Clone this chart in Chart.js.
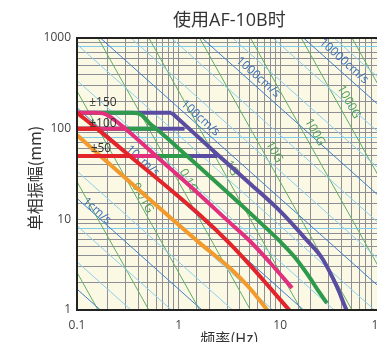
<!DOCTYPE html>
<html>
<head>
<meta charset="utf-8">
<script src="https://cdn.jsdelivr.net/npm/chart.js@4.4.0/dist/chart.umd.min.js"></script>
<style>
html, body { margin: 0; padding: 0; background: #fff; overflow: hidden; }
#wrap { width: 400px; height: 342px; }
</style>
</head>
<body>
<div id="wrap"><canvas id="chart" width="400" height="342"></canvas></div>
<script>
// Axis ranges
const freqRange = [0.1, 100];   // Hz
const ampRange = [1, 1000];     // mm

// Stroke levels (single amplitude, mm)
const strokeLevels = [150, 100, 50];
const strokeLabels = ['±150', '±100', '±50'];

// Limit curves: frequency (Hz) / amplitude (mm)
const purpleFreq = [0.854, 2.41, 5, 10, 18, 26, 32.4, 38, 42, 45];
const purpleAmp  = [150, 52, 25, 12.3, 6.0, 3.7, 2.35, 1.6, 1.2, 1.0];
const greenFreq  = [0.354, 0.41, 0.46, 0.52, 0.608, 1.2, 3, 6, 10, 14, 19.2, 24, 28.9];
const greenAmp   = [150, 146, 133, 114, 99, 50.5, 20, 9.8, 5.7, 3.8, 2.35, 1.6, 1.19];
const pinkFreq   = [0.157, 0.19, 0.23, 0.3, 0.6, 1.6, 3, 5, 8, 13.1];
const pinkAmp    = [150, 145, 127, 100, 50, 18.8, 9.8, 5.8, 3.3, 1.75];
const redFreq    = [0.1, 0.157, 0.331, 1.6, 3.2, 5, 7.5, 10, 12.3];
const redAmp     = [150, 100, 50, 11.3, 5.4, 3.16, 1.89, 1.3, 1.0];
const orangeFreq = [0.1, 0.4, 1.61, 3.2, 5, 7.47];
const orangeAmp  = [85, 21.5, 5.5, 2.9, 1.75, 1.0];

// Where each stroke line (150 / 100 / 50) meets its curve, Hz
const purpleEnds = [0.854, 1.145, 2.41];
const greenEnds  = [0.354, 0.608, 1.2];
const pinkEnds   = [0.157, 0.3, 0.6];
const redEnds    = [null, 0.157, 0.331];
const orangeEnds = [null, null, 0.17];

// Velocity guide lines (cm/s): amplitude at 0.1 Hz and at 100 Hz
const velMajorAt01  = [1.7, 17, 170, 1700, 17000, 170000];
const velMajorAt100 = [0.0017, 0.017, 0.17, 1.7, 17, 170];
const velMinorAt01  = [3.4, 8.5, 34, 85, 340, 850, 3400, 8500, 34000, 85000, 340000, 850000];
const velMinorAt100 = [0.0034, 0.0085, 0.034, 0.085, 0.34, 0.85, 3.4, 8.5, 34, 85, 340, 850];

// Acceleration guide lines (0.0001G ... 10000G): amplitude at 0.1 Hz and at 100 Hz
const accAt01  = [2.6, 26, 260, 2600, 26000, 260000, 2600000, 26000000, 260000000];
const accAt100 = [0.0000026, 0.000026, 0.00026, 0.0026, 0.026, 0.26, 2.6, 26, 260];

// Guide labels: text, freq, amp
const velLabels = [
  ['1cm/s', 0.157, 12.4], ['10cm/s', 0.443, 44], ['100cm/s', 1.64, 131],
  ['1000cm/s', 6.08, 371], ['10000cm/s', 42.4, 557]
];
const accLabels = [
  ['0.01G', 0.443, 17.2], ['0.1G', 1.25, 26.5], ['1G', 3.31, 36.8],
  ['10G', 8.73, 55.3], ['100G', 22, 91.8], ['1000G', 47.4, 197]
];
const strokeLabelPos = [[0.18, 192], [0.18, 115], [0.172, 61]];

const FONT = '"Open Sans", "Noto Sans CJK SC", sans-serif';
const CJK = '"Noto Sans CJK SC", "Open Sans", sans-serif';

function pts(freqs, amps) {
    return freqs.map((f, i) => ({ x: f, y: amps[i] }));
}

function guide(a01, a100, color) {
    return {
        data: [{ x: 0.1, y: a01 }, { x: 100, y: a100 }],
        borderColor: color, borderWidth: 1, showLine: true,
        pointRadius: 0, order: 50, isGuide: true
    };
}

const datasets = [];
velMinorAt01.forEach((a, i) => datasets.push(guide(a, velMinorAt100[i], '#8dd0ee')));
velMajorAt01.forEach((a, i) => datasets.push(guide(a, velMajorAt100[i], '#3f7fcb')));
accAt01.forEach((a, i) => datasets.push(guide(a, accAt100[i], '#5fae62')));

const curves = [
    { color: '#5a4ca0', freq: purpleFreq, amp: purpleAmp, ends: purpleEnds, order: 5 },
    { color: '#2e9a4b', freq: greenFreq, amp: greenAmp, ends: greenEnds, order: 4 },
    { color: '#e2307f', freq: pinkFreq, amp: pinkAmp, ends: pinkEnds, order: 3 },
    { color: '#f39a2c', freq: orangeFreq, amp: orangeAmp, ends: orangeEnds, order: 2 },
    { color: '#e3242b', freq: redFreq, amp: redAmp, ends: redEnds, order: 1 }
];

curves.forEach(c => {
    datasets.push({
        data: pts(c.freq, c.amp), borderColor: c.color, borderWidth: 4,
        showLine: true, pointRadius: 0, cubicInterpolationMode: 'monotone', order: c.order
    });
    strokeLevels.forEach((lv, i) => {
        if (!c.ends[i]) return;
        datasets.push({
            data: [{ x: 0.1, y: lv }, { x: c.ends[i], y: lv }], borderColor: c.color,
            borderWidth: 4, showLine: true, pointRadius: 0, order: c.order
        });
    });
});

const isDecade = v => { const l = Math.log10(v); return Math.abs(l - Math.round(l)) < 1e-6; };
const isEight = v => { const m = v / Math.pow(10, Math.floor(Math.log10(v) + 1e-9)); return Math.abs(m - 8) < 1e-6; };

function drawGuideLabels(chart) {
    const { ctx, scales: { x, y } } = chart;
    const dx = x.getPixelForValue(10) - x.getPixelForValue(1);
    const dy = y.getPixelForValue(1) - y.getPixelForValue(10);
    ctx.save();
    ctx.font = '12px ' + FONT;
    ctx.textAlign = 'center';
    ctx.textBaseline = 'middle';
    const put = (list, k, color) => {
        const ang = Math.atan2(k * dy, dx);
        list.forEach(([t, f, a]) => {
            ctx.save();
            ctx.translate(x.getPixelForValue(f), y.getPixelForValue(a));
            ctx.rotate(ang);
            ctx.fillStyle = color;
            ctx.fillText(t, 0, 0);
            ctx.restore();
        });
    };
    put(velLabels, 1, '#3a6fb6');
    put(accLabels, 2, '#4f9f52');
    ctx.restore();
}

let labelsDone = false;
const decor = {
    id: 'decor',
    beforeDraw(chart) {
        const { ctx, chartArea: a } = chart;
        ctx.save();
        ctx.fillStyle = '#fbf8e4';
        ctx.fillRect(a.left, a.top, a.right - a.left, a.bottom - a.top);
        ctx.restore();
        labelsDone = false;
    },
    beforeDatasetDraw(chart, args) {
        const ds = chart.data.datasets[args.index];
        if (!ds.isGuide && !labelsDone) {
            drawGuideLabels(chart);
            labelsDone = true;
        }
    },
    afterDraw(chart) {
        const { ctx, chartArea: a, scales: { x, y } } = chart;
        ctx.save();
        // frame
        ctx.strokeStyle = '#222';
        ctx.lineWidth = 2;
        ctx.strokeRect(a.left, a.top, a.right - a.left, a.bottom - a.top);
        // stroke labels
        ctx.fillStyle = '#333';
        ctx.font = '12px ' + FONT;
        ctx.textAlign = 'center';
        ctx.textBaseline = 'middle';
        strokeLabels.forEach((t, i) => {
            const [f, v] = strokeLabelPos[i];
            ctx.fillText(t, x.getPixelForValue(f), y.getPixelForValue(v));
        });
        // title
        const cx = (a.left + a.right) / 2;
        ctx.font = '18px ' + FONT;
        ctx.fillText('使用AF-10B时', cx, 21);
        // x axis title
        ctx.font = '15px ' + CJK;
        ctx.textBaseline = 'top';
        ctx.fillText('频率(Hz)', cx, 331);
        // y axis title
        ctx.font = '16px ' + CJK;
        ctx.translate(35, (a.top + a.bottom) / 2 + 4);
        ctx.rotate(-Math.PI / 2);
        ctx.textBaseline = 'middle';
        ctx.fillText('单相振幅(mm)', 0, 0);
        ctx.restore();
    }
};

new Chart(document.getElementById('chart'), {
    type: 'scatter',
    data: { datasets },
    options: {
        responsive: false,
        animation: false,
        devicePixelRatio: 1,
        layout: { padding: { top: 38, right: 15, left: 0, bottom: 0 } },
        plugins: { legend: { display: false }, tooltip: { enabled: false } },
        scales: {
            x: {
                type: 'logarithmic',
                min: freqRange[0], max: freqRange[1],
                afterFit: s => { s.height = 32; },
                border: { color: '#222', width: 2 },
                grid: { color: '#8e8e96', lineWidth: 1, drawTicks: false },
                ticks: {
                    autoSkip: false, maxRotation: 0, padding: 8, color: '#444',
                    font: { family: FONT, size: 12 },
                    callback: v => isDecade(v) ? String(Number(v.toPrecision(3))) : ''
                }
            },
            y: {
                type: 'logarithmic',
                min: ampRange[0], max: ampRange[1],
                afterFit: s => { s.width = 77; },
                border: { color: '#222', width: 2 },
                grid: {
                    drawTicks: false, lineWidth: 1,
                    color: c => (c.tick && isEight(c.tick.value)) ? '#7fcaea' : '#8e8e96'
                },
                ticks: {
                    autoSkip: false, padding: 6, color: '#444',
                    font: { family: FONT, size: 12 },
                    callback: v => isDecade(v) ? String(Math.round(v)) : ''
                }
            }
        }
    },
    plugins: [decor]
});
</script>
</body>
</html>
